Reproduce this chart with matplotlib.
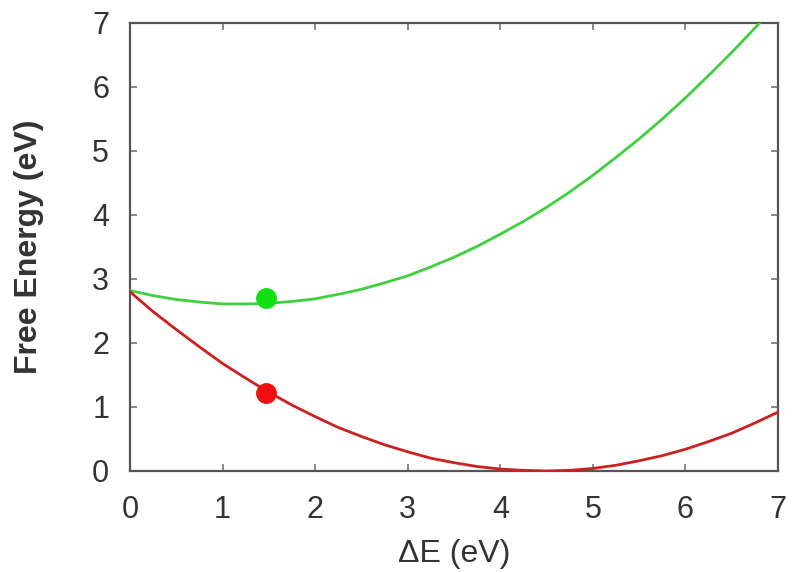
import matplotlib
matplotlib.use("Agg")
import matplotlib.pyplot as plt

# Values
delta_e = [0.0, 0.25, 0.5, 0.75, 1.0, 1.25, 1.5, 1.75, 2.0, 2.25, 2.5, 2.75, 3.0, 3.25, 3.5,
           3.75, 4.0, 4.25, 4.5, 4.75, 5.0, 5.25, 5.5, 5.75, 6.0, 6.25, 6.5, 6.75, 7.0]
red_curve = [2.80, 2.49, 2.21, 1.94, 1.68, 1.45, 1.23, 1.03, 0.85, 0.68, 0.54, 0.41, 0.30, 0.20, 0.13,
             0.07, 0.03, 0.01, 0.00, 0.01, 0.04, 0.09, 0.16, 0.24, 0.34, 0.46, 0.59, 0.75, 0.92]
green_curve = [2.82, 2.74, 2.68, 2.64, 2.61, 2.61, 2.62, 2.65, 2.69, 2.76, 2.84, 2.94, 3.05, 3.19, 3.34,
               3.51, 3.70, 3.90, 4.12, 4.36, 4.62, 4.90, 5.19, 5.50, 5.83, 6.18, 6.54, 6.92, 7.32]
point_x = [1.47]
red_point = [1.22]
green_point = [2.70]
ticks = [0, 1, 2, 3, 4, 5, 6, 7]

plt.rcParams['font.family'] = ['Liberation Sans', 'DejaVu Sans']

fig = plt.figure(figsize=(7.97, 5.73), dpi=100)
ax = fig.add_axes([130 / 797, 102 / 573, 648 / 797, 448 / 573])

ax.plot(delta_e, green_curve, color='#3fcf3f', lw=2.0, zorder=3)
ax.plot(delta_e, red_curve, color='#cc1f1f', lw=2.0, zorder=3)
ax.plot(point_x, green_point, 'o', color='#10e010', ms=14, zorder=4)
ax.plot(point_x, red_point, 'o', color='#ee1010', ms=14, zorder=4)

ax.set_xlim(0, 7)
ax.set_ylim(0, 7)
ax.set_xticks(ticks)
ax.set_yticks(ticks)

for side in ax.spines.values():
    side.set_color('#555555')
    side.set_linewidth(1.6)
ax.tick_params(direction='in', length=5, width=1.2, color='#777777',
               top=True, right=True, labelsize=22, labelcolor='#333333')
ax.tick_params(axis='x', pad=17)
ax.tick_params(axis='y', pad=15)

ax.set_xlabel('ΔE (eV)', fontsize=23, color='#333333')
ax.set_ylabel('Free Energy (eV)', fontsize=23, color='#333333', fontweight='bold')
ax.xaxis.set_label_coords(0.5, -0.152)
ax.yaxis.set_label_coords(-0.132, 0.5)

fig.savefig('out.png', dpi=100)
